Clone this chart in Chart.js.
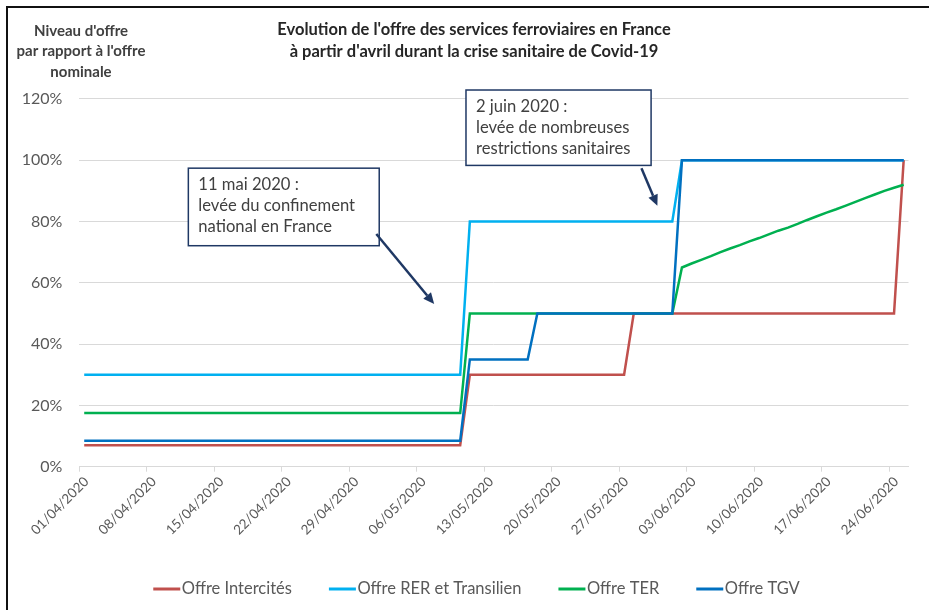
<!DOCTYPE html>
<html lang="fr">
<head>
<meta charset="utf-8">
<title>Offre ferroviaire Covid-19</title>
<script src="https://cdn.jsdelivr.net/npm/chart.js@4.4.0/dist/chart.umd.min.js"></script>
<style>
    html, body { margin: 0; padding: 0; background: #fff; }
    #wrap { position: absolute; left: 0; top: 0; width: 929px; height: 610px; }
    #frame { position: absolute; left: 6px; top: 6px; width: 940px; height: 620px;
             border-top: 2px solid #111; border-left: 2px solid #111; pointer-events: none; }
</style>
</head>
<body>
<div id="wrap"><canvas id="chart" width="929" height="610"></canvas></div>
<div id="frame"></div>
<script>
// ==========================================
// DATA (en % de l'offre nominale)
// un point par jour, du 01/04/2020 (index 0) au 25/06/2020 (index 85)
// ==========================================

const tickLabels = ['01/04/2020', '08/04/2020', '15/04/2020', '22/04/2020', '29/04/2020', '06/05/2020',
    '13/05/2020', '20/05/2020', '27/05/2020', '03/06/2020', '10/06/2020', '17/06/2020', '24/06/2020'];

const seriesNames = ['Offre Intercités', 'Offre RER et Transilien', 'Offre TER', 'Offre TGV'];
const seriesColors = ['#C0504D', '#00B0F0', '#00B050', '#0070C0'];

const intercites = [
    7, 7, 7, 7, 7, 7, 7,
    7, 7, 7, 7, 7, 7, 7,
    7, 7, 7, 7, 7, 7, 7,
    7, 7, 7, 7, 7, 7, 7,
    7, 7, 7, 7, 7, 7, 7,
    7, 7, 7, 7, 7, 30, 30,
    30, 30, 30, 30, 30, 30, 30,
    30, 30, 30, 30, 30, 30, 30,
    30, 50, 50, 50, 50, 50, 50,
    50, 50, 50, 50, 50, 50, 50,
    50, 50, 50, 50, 50, 50, 50,
    50, 50, 50, 50, 50, 50, 50,
    50, 100
];

const rer = [
    30, 30, 30, 30, 30, 30, 30,
    30, 30, 30, 30, 30, 30, 30,
    30, 30, 30, 30, 30, 30, 30,
    30, 30, 30, 30, 30, 30, 30,
    30, 30, 30, 30, 30, 30, 30,
    30, 30, 30, 30, 30, 80, 80,
    80, 80, 80, 80, 80, 80, 80,
    80, 80, 80, 80, 80, 80, 80,
    80, 80, 80, 80, 80, 80, 100,
    100, 100, 100, 100, 100, 100, 100,
    100, 100, 100, 100, 100, 100, 100,
    100, 100, 100, 100, 100, 100, 100,
    100, 100
];

const ter = [
    17.5, 17.5, 17.5, 17.5, 17.5, 17.5, 17.5,
    17.5, 17.5, 17.5, 17.5, 17.5, 17.5, 17.5,
    17.5, 17.5, 17.5, 17.5, 17.5, 17.5, 17.5,
    17.5, 17.5, 17.5, 17.5, 17.5, 17.5, 17.5,
    17.5, 17.5, 17.5, 17.5, 17.5, 17.5, 17.5,
    17.5, 17.5, 17.5, 17.5, 17.5, 50, 50,
    50, 50, 50, 50, 50, 50, 50,
    50, 50, 50, 50, 50, 50, 50,
    50, 50, 50, 50, 50, 50, 65,
    66.3, 67.5, 68.7, 70, 71.2, 72.3, 73.5,
    74.6, 75.8, 77, 78, 79.2, 80.5, 81.7,
    82.9, 84, 85.2, 86.4, 87.6, 88.8, 90,
    91, 92
];

const tgv = [
    8.5, 8.5, 8.5, 8.5, 8.5, 8.5, 8.5,
    8.5, 8.5, 8.5, 8.5, 8.5, 8.5, 8.5,
    8.5, 8.5, 8.5, 8.5, 8.5, 8.5, 8.5,
    8.5, 8.5, 8.5, 8.5, 8.5, 8.5, 8.5,
    8.5, 8.5, 8.5, 8.5, 8.5, 8.5, 8.5,
    8.5, 8.5, 8.5, 8.5, 8.5, 35, 35,
    35, 35, 35, 35, 35, 50, 50,
    50, 50, 50, 50, 50, 50, 50,
    50, 50, 50, 50, 50, 50, 100,
    100, 100, 100, 100, 100, 100, 100,
    100, 100, 100, 100, 100, 100, 100,
    100, 100, 100, 100, 100, 100, 100,
    100, 100
];

const chartTitle = ["Evolution de l'offre des services ferroviaires en France",
    "à partir d'avril durant la crise sanitaire de Covid-19"];
const yTitle = ["Niveau d'offre", "par rapport à l'offre", "nominale"];

// Encadrés (ancrés en jours / % sur les axes)
const notes = [
    { lines: ['11 mai 2020 :', 'levée du confinement', 'national en France'],
      box: [11.3, 97.4, 31.1, 72.1], arrow: [30.8, 75.9, 36.8, 53.1] },
    { lines: ['2 juin 2020 :', 'levée de nombreuses', 'restrictions sanitaires'],
      box: [40.1, 122.9, 59.3, 98.3], arrow: [58.3, 97.4, 59.95, 85.1] }
];

// ==========================================
// CHART
// ==========================================

const FONT = 'Lato, "Open Sans", sans-serif';
Chart.defaults.font.family = FONT;

// point au milieu de chaque journée (axe date Excel "entre graduations")
const toPoints = arr => arr.map((v, i) => ({ x: i + 0.5, y: v }));
const allSeries = [intercites, rer, ter, tgv];

function drawArrow(ctx, x1, y1, x2, y2) {
    const a = Math.atan2(y2 - y1, x2 - x1), L = 11, W = 5;
    const bx = x2 - L * Math.cos(a), by = y2 - L * Math.sin(a);
    ctx.beginPath();
    ctx.moveTo(x1, y1);
    ctx.lineTo(bx, by);
    ctx.stroke();
    ctx.beginPath();
    ctx.moveTo(x2, y2);
    ctx.lineTo(bx + W * Math.sin(a), by - W * Math.cos(a));
    ctx.lineTo(bx - W * Math.sin(a), by + W * Math.cos(a));
    ctx.closePath();
    ctx.fill();
}

const decor = {
    id: 'decor',
    afterDraw(chart) {
        const { ctx } = chart;
        const x = chart.scales.x, y = chart.scales.y;
        ctx.save();

        // titre
        ctx.textAlign = 'center';
        ctx.textBaseline = 'middle';
        ctx.fillStyle = '#262626';
        ctx.font = 'bold 16.5px ' + FONT;
        chartTitle.forEach((t, i) => ctx.fillText(t, 474, 30 + i * 22));

        // titre axe Y
        ctx.fillStyle = '#404040';
        ctx.font = 'bold 15px ' + FONT;
        yTitle.forEach((t, i) => ctx.fillText(t, 81, 31 + i * 20.5));

        // encadrés + flèches
        notes.forEach(n => {
            const l = x.getPixelForValue(n.box[0]), t = y.getPixelForValue(n.box[1]);
            const r = x.getPixelForValue(n.box[2]), b = y.getPixelForValue(n.box[3]);
            ctx.fillStyle = '#fff';
            ctx.fillRect(l, t, r - l, b - t);
            ctx.strokeStyle = '#1F3864';
            ctx.lineWidth = 1.5;
            ctx.strokeRect(l, t, r - l, b - t);
            ctx.fillStyle = '#404040';
            ctx.font = '16.6px ' + FONT;
            ctx.textAlign = 'left';
            ctx.textBaseline = 'alphabetic';
            n.lines.forEach((s, i) => ctx.fillText(s, l + 10, t + 21.5 + i * 21.3));

            ctx.strokeStyle = '#1F3864';
            ctx.fillStyle = '#1F3864';
            ctx.lineWidth = 2.5;
            drawArrow(ctx, x.getPixelForValue(n.arrow[0]), y.getPixelForValue(n.arrow[1]),
                x.getPixelForValue(n.arrow[2]), y.getPixelForValue(n.arrow[3]));
        });

        // légende
        ctx.font = '16.5px ' + FONT;
        ctx.textBaseline = 'middle';
        ctx.textAlign = 'left';
        const sw = 27, gapTxt = 1.5, gapItem = 37, ly = 589;
        const widths = seriesNames.map(s => sw + gapTxt + ctx.measureText(s).width);
        const total = widths.reduce((a, b) => a + b, 0) + gapItem * (widths.length - 1);
        let lx = 476.5 - total / 2;
        seriesNames.forEach((s, i) => {
            ctx.strokeStyle = seriesColors[i];
            ctx.lineWidth = 3;
            ctx.beginPath();
            ctx.moveTo(lx, ly);
            ctx.lineTo(lx + sw, ly);
            ctx.stroke();
            ctx.fillStyle = '#595959';
            ctx.fillText(s, lx + sw + gapTxt, ly);
            lx += widths[i] + gapItem;
        });

        ctx.restore();
    }
};

new Chart(document.getElementById('chart'), {
    type: 'line',
    data: {
        datasets: seriesNames.map((name, i) => ({
            label: name,
            data: toPoints(allSeries[i]),
            borderColor: seriesColors[i],
            backgroundColor: seriesColors[i],
            borderWidth: 2.5,
            pointRadius: 0,
            tension: 0,
            fill: false,
            order: 4 - i // TGV dessiné au-dessus
        }))
    },
    options: {
        responsive: false,
        animation: false,
        layout: { padding: { top: 98.9, left: 0, right: 20.5, bottom: 0 } },
        plugins: {
            legend: { display: false },
            title: { display: false },
            tooltip: { enabled: false }
        },
        scales: {
            x: {
                type: 'linear',
                min: 0,
                max: 86,
                afterFit: s => { s.height = 143.3; },
                afterBuildTicks: s => { s.ticks = tickLabels.map((l, i) => ({ value: i * 7 })); },
                grid: { drawOnChartArea: false, drawTicks: true, tickLength: 5, color: '#D9D9D9' },
                border: { display: true, color: '#D9D9D9' },
                ticks: {
                    autoSkip: false,
                    minRotation: 45,
                    maxRotation: 45,
                    padding: 2,
                    labelOffset: 7,
                    color: '#595959',
                    font: { size: 13.5 },
                    callback: (v, i) => tickLabels[i]
                }
            },
            y: {
                min: 0,
                max: 120,
                afterFit: s => { s.width = 79.4; },
                grid: { color: '#D9D9D9', drawTicks: false },
                border: { display: false },
                ticks: {
                    stepSize: 20,
                    padding: 17,
                    color: '#595959',
                    font: { size: 16 },
                    callback: v => v + '%'
                }
            }
        }
    },
    plugins: [decor]
});
</script>
</body>
</html>
